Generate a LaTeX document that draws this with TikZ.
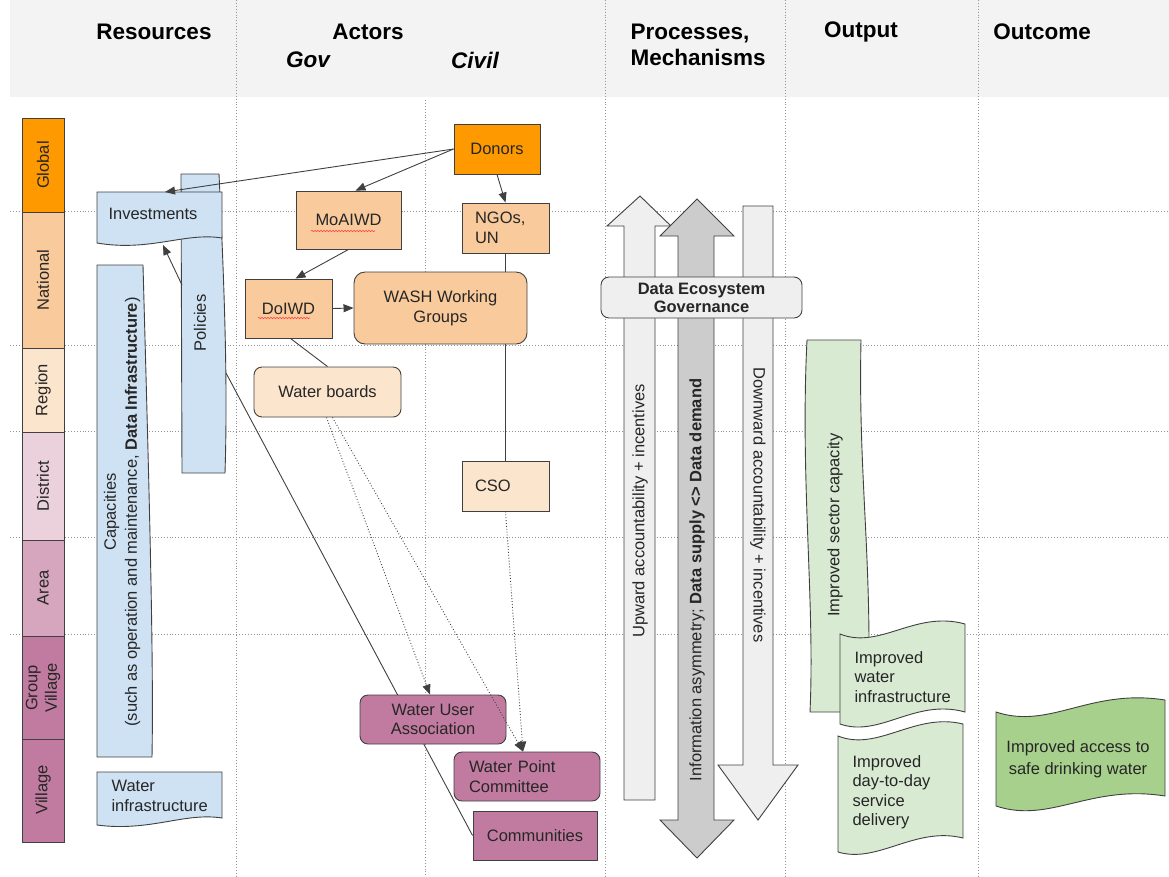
\documentclass[tikz,border=0pt]{standalone}
\usepackage{fontspec}
\setmainfont{Liberation Sans}
\usetikzlibrary{arrows.meta,decorations.pathmorphing}
\definecolor{hdr}{HTML}{F3F3F3}
\definecolor{orgD}{HTML}{FF9900}
\definecolor{orgL}{HTML}{F9CB9C}
\definecolor{orgP}{HTML}{FCE5CD}
\definecolor{pnkL}{HTML}{EAD1DC}
\definecolor{pnkM}{HTML}{D5A6BD}
\definecolor{pnkD}{HTML}{C27BA0}
\definecolor{blu}{HTML}{CFE2F3}
\definecolor{grnL}{HTML}{D9EAD3}
\definecolor{grnD}{HTML}{A8D08D}
\definecolor{gryL}{HTML}{EFEFEF}
\definecolor{gryM}{HTML}{CCCCCC}
\definecolor{edge}{HTML}{404040}
\definecolor{txt}{HTML}{262626}
\pgfdeclarelayer{gridlayer}
\pgfdeclarelayer{backlayer}
\pgfsetlayers{gridlayer,backlayer,main}
\tikzset{
 body/.style={font=\fontsize{16.5}{19.5}\selectfont, text=txt},
 hd/.style={font=\fontsize{22.5}{26}\selectfont\bfseries, text=black},
 hdit/.style={font=\fontsize{22.5}{26}\selectfont\bfseries\itshape, text=black},
 gridline/.style={draw=gray!85, dotted, line width=0.9pt},
 box/.style={body, draw=edge, line width=0.9pt, inner sep=0pt, align=center},
 rbox/.style={box, rounded corners=8pt},
 shp/.style={draw=edge, line width=0.9pt},
 conn/.style={draw=edge, line width=0.9pt},
 arr/.style={conn, -{Triangle[length=10pt,width=8pt]}},
 darr/.style={arr, dotted},
 lvltxt/.style={body, rotate=90, align=center},
 spell/.style={draw=red!75, line width=0.6pt, decorate, decoration={snake, amplitude=0.7pt, segment length=3pt}},
}
\begin{document}
\begin{tikzpicture}[x=1pt,y=-1pt]
\useasboundingbox (0,0) rectangle (1169,876);
\begin{pgfonlayer}{gridlayer}
\fill[hdr] (10,0) rectangle (1169,97);
\foreach \yy in {211,345,431,537,634} \draw[gridline] (10,\yy) -- (1169,\yy);
\foreach \xx in {236,605,785,978} \draw[gridline] (\xx,0) -- (\xx,876);
\draw[gridline] (425,100) -- (425,876);
\end{pgfonlayer}

% headers
\node[hd] (hres) at (154,32) {Resources};
\node[hd] (hact) at (368,32) {Actors};
\node[hdit] (hgov) at (308,60) {Gov};
\node[hdit] (hciv) at (475,60) {Civil};
\node[hd, align=left, anchor=west] (hproc) at (627,45) {Processes,\\Mechanisms};
\node[hd] (hout) at (861,32) {Output};
\node[hd] (hoc) at (1042,32) {Outcome};

% level bar
\draw[shp, fill=orgD] (22,118) rectangle (64,212);
\draw[shp, fill=orgL] (22,212) rectangle (64,348);
\draw[shp, fill=orgP] (22,348) rectangle (64,432);
\draw[shp, fill=pnkL] (22,432) rectangle (64,540);
\draw[shp, fill=pnkM] (22,540) rectangle (64,636);
\draw[shp, fill=pnkD] (22,636) rectangle (64,739);
\draw[shp, fill=pnkD] (22,739) rectangle (64,842);
\node[lvltxt] (lglo) at (43,165) {Global};
\node[lvltxt] (lnat) at (43,280) {National};
\node[lvltxt] (lreg) at (43,390) {Region};
\node[lvltxt] (ldis) at (43,486) {District};
\node[lvltxt] (lare) at (43,588) {Area};
\node[lvltxt] (lgv) at (43,688) {Group\\Village};
\node[lvltxt] (lvil) at (43,790) {Village};

% resources
\draw[shp, fill=blu] (181,174) -- (219,174) .. controls (224,280) and (228,380) .. (225,473) -- (182,473) -- cycle;
\node[body, rotate=90] (poltxt) at (200,323) {Policies};
\draw[shp, fill=blu] (97,192) -- (222,192) -- (222,238) .. controls (185,232) and (150,252) .. (97,243) -- cycle;
\node[body] (invtxt) at (153,214) {Investments};
\draw[shp, fill=blu] (97,265) -- (143,265) .. controls (148,450) and (154,650) .. (152,757) -- (97,757) -- cycle;
\node[body, rotate=90, align=center, font=\fontsize{16.5}{21}\selectfont] (captxt) at (122,512) {Capacities\\(such as operation and maintenance, \textbf{Data Infrastructure})};
\draw[shp, fill=blu] (97,772) -- (222,772) -- (222,818) .. controls (185,812) and (150,832) .. (97,825) -- cycle;
\node[body, align=left, anchor=west] (wintxt) at (108,796) {Water\\infrastructure};
\coordinate (invtop) at (165,192);
\coordinate (invbot) at (163,245);
\coordinate (polL) at (182,285);
\coordinate (polR) at (226,373);

% actors
\node[box, fill=orgD, minimum width=86pt, minimum height=50pt] (donors) at (497,149) {Donors};
\node[box, fill=orgL, minimum width=105pt, minimum height=58pt] (moaiwd) at (348.5,220) {MoAIWD};
\node[box, fill=orgL, minimum width=87pt, minimum height=50pt, text width=61pt, align=left] (ngos) at (505.5,228) {NGOs,\\UN};
\node[box, fill=orgL, minimum width=87pt, minimum height=59pt] (doiwd) at (288.5,308.5) {DoIWD};
\node[rbox, fill=orgL, minimum width=173pt, minimum height=72pt, rounded corners=11pt] (wash) at (440.5,308) {WASH Working\\Groups};
\node[rbox, fill=orgP, minimum width=147pt, minimum height=50pt] (wb) at (327.5,392) {Water boards};
\node[box, fill=orgP, minimum width=87pt, minimum height=50pt, text width=61pt, align=left] (cso) at (505.5,486) {CSO};
\node[rbox, fill=pnkD, minimum width=146pt, minimum height=49pt] (wua) at (433,719.5) {Water User\\Association};
\node[rbox, fill=pnkD, minimum width=146pt, minimum height=49pt, text width=116pt, align=left] (wpc) at (527,776.5) {Water Point\\Committee};
\node[box, fill=pnkD, minimum width=124pt, minimum height=49pt] (comm) at (535,835.5) {Communities};
\draw[spell] (311,231) -- (375,231);
\draw[spell] (258,318) -- (310,318);

% processes
\draw[shp, fill=gryL] (624,800) -- (624,226) -- (607,226) -- (640,196) -- (671,226) -- (655,226) -- (655,800) -- cycle;
\draw[shp, fill=gryM] (678,236) -- (660,236) -- (697,199) -- (734,236) -- (714,236) -- (714,820) -- (734,820) -- (697,858) -- (660,820) -- (678,820) -- cycle;
\draw[shp, fill=gryL] (743,206) -- (773,206) -- (773,765) -- (798,765) -- (758,820) -- (718,765) -- (743,765) -- cycle;
\node[body, rotate=90] (uptxt) at (640,511) {Upward accountability + incentives};
\node[body, rotate=90] (midtxt) at (697,580) {Information asymmetry; \textbf{Data supply <> Data demand}};
\node[body, rotate=-90] (dntxt) at (758,505) {Downward accountability + incentives};
\node[rbox, fill=gryL, minimum width=201pt, minimum height=41pt, font=\fontsize{16.5}{18}\selectfont\bfseries] (gov) at (701.5,297.5) {Data Ecosystem\\Governance};

% output
\draw[shp, fill=grnL] (807,340) -- (861,340) .. controls (858,480) and (873,560) .. (868,712) -- (810,712) .. controls (815,600) and (800,480) .. (807,340) -- cycle;
\node[body, rotate=90] (sectxt) at (835,525) {Improved sector capacity};
\draw[shp, fill=grnL] (840,634) .. controls (880,650) and (915,610) .. (965,624) -- (965,712) .. controls (915,698) and (880,738) .. (840,724) -- cycle;
\node[body, align=left, anchor=west] (wotxt) at (851,677) {Improved\\water\\infrastructure};
\draw[shp, fill=grnL] (838,736) .. controls (878,752) and (915,712) .. (963,724) -- (963,838) .. controls (915,826) and (878,864) .. (838,852) -- cycle;
\node[body, align=left, anchor=west] (ddtxt) at (849,792) {Improved\\day-to-day\\service\\delivery};

% outcome
\draw[shp, fill=grnD] (996,712) .. controls (1050,730) and (1090,688) .. (1165,700) -- (1165,796) .. controls (1090,784) and (1050,824) .. (996,806) -- cycle;
\node[body, align=center, font=\fontsize{16.5}{22}\selectfont] (actxt) at (1078,759) {Improved access to\\safe drinking water};

% connectors behind nodes
\begin{pgfonlayer}{backlayer}
\draw[conn] (ngos.south) -- (cso.north);
\draw[conn] (polR) -- (comm.west);
\end{pgfonlayer}

% connectors
\draw[arr] (donors.west) -- (invtop);
\draw[arr] (donors.west) -- ([xshift=7pt]moaiwd.north);
\draw[arr] (donors.south) -- (ngos.north);
\draw[arr] (moaiwd.south) -- ([xshift=7pt]doiwd.north);
\draw[arr] (doiwd.east) -- (wash.west);
\draw[conn] ([xshift=2pt]doiwd.south) -- (wb.north);
\draw[arr] (polL) -- (invbot);
\draw[darr] ([xshift=-1pt]wb.south) -- ([xshift=-3pt]wua.north);
\draw[darr] ([xshift=5pt]wb.south) -- ([xshift=-4pt]wpc.north);
\draw[darr] (cso.south) -- ([xshift=-4pt]wpc.north);
\end{tikzpicture}
\end{document}
